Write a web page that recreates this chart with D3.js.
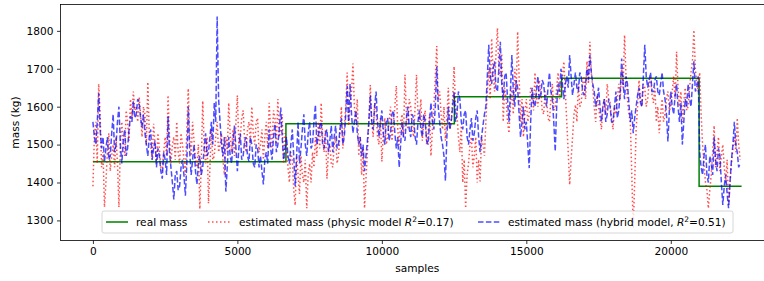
<!DOCTYPE html>
<html>
<head>
<meta charset="utf-8">
<script src="https://cdn.jsdelivr.net/npm/d3@7"></script>
<style>
  body { margin: 0; background: #fff; }
  svg { display: block; font-family: "DejaVu Sans", sans-serif; }
</style>
</head>
<body>
<div id="chart"></div>
<script>
// ---- data ----
// real mass (step function): change points in samples and level of each step
let realSamples = [0, 6680, 12510, 16220, 20980, 22450];
let realMass = [1455, 1555, 1626, 1675, 1390, 1390];

// estimated mass, one value every 50 samples
let sampleStep = 50;

let physicMass = [
  1390, 1520, 1560, 1450, 1660, 1580, 1440, 1480, 1335, 1400, 1480, 1530, 1430, 1470, 1500, 1440, 1520, 1450, 1335, 1500,
  1560, 1500, 1470, 1590, 1560, 1510, 1620, 1570, 1640, 1590, 1600, 1560, 1625, 1580, 1520, 1600, 1580, 1500, 1665, 1530,
  1500, 1460, 1555, 1500, 1450, 1530, 1490, 1440, 1430, 1480, 1520, 1470, 1630, 1520, 1450, 1500, 1520, 1460, 1560, 1480,
  1450, 1530, 1500, 1460, 1420, 1540, 1648, 1520, 1470, 1560, 1510, 1460, 1440, 1500, 1330, 1450, 1615, 1500, 1450, 1520,
  1345, 1440, 1540, 1460, 1470, 1520, 1560, 1480, 1500, 1530, 1460, 1420, 1520, 1480, 1610, 1530, 1480, 1540, 1470, 1560,
  1630, 1500, 1520, 1570, 1590, 1510, 1480, 1540, 1560, 1500, 1600, 1530, 1500, 1560, 1570, 1480, 1500, 1540, 1460, 1520,
  1560, 1490, 1610, 1540, 1490, 1590, 1570, 1500, 1620, 1520, 1540, 1580, 1450, 1530, 1500, 1440, 1400, 1480, 1460, 1380,
  1340, 1470, 1420, 1370, 1470, 1420, 1400, 1460, 1332, 1420, 1450, 1400, 1480, 1440, 1520, 1470, 1560, 1490, 1610, 1520,
  1480, 1540, 1410, 1480, 1500, 1450, 1440, 1500, 1520, 1450, 1470, 1530, 1600, 1490, 1540, 1600, 1690, 1550, 1600, 1640,
  1714, 1600, 1560, 1620, 1470, 1520, 1420, 1490, 1332, 1410, 1480, 1560, 1657, 1560, 1520, 1610, 1590, 1520, 1500, 1570,
  1455, 1530, 1570, 1500, 1520, 1560, 1600, 1510, 1560, 1600, 1655, 1540, 1500, 1560, 1580, 1520, 1684, 1580, 1540, 1620,
  1600, 1540, 1520, 1600, 1684, 1580, 1560, 1620, 1510, 1560, 1590, 1500, 1530, 1580, 1470, 1540, 1600, 1680, 1760, 1620,
  1640, 1580, 1540, 1600, 1510, 1570, 1650, 1540, 1560, 1620, 1706, 1600, 1580, 1520, 1480, 1550, 1400, 1460, 1332, 1420,
  1450, 1500, 1520, 1440, 1470, 1520, 1400, 1460, 1403, 1520, 1500, 1470, 1560, 1640, 1700, 1620, 1780, 1690, 1640, 1740,
  1807, 1700, 1680, 1740, 1560, 1650, 1620, 1560, 1530, 1600, 1650, 1580, 1700, 1640, 1798, 1680, 1560, 1620, 1520, 1580,
  1620, 1560, 1580, 1650, 1640, 1590, 1690, 1620, 1600, 1670, 1640, 1590, 1580, 1640, 1620, 1570, 1560, 1620, 1660, 1590,
  1600, 1650, 1690, 1620, 1650, 1680, 1719, 1640, 1560, 1480, 1394, 1460, 1520, 1580, 1605, 1560, 1660, 1600, 1610, 1660,
  1680, 1620, 1720, 1660, 1771, 1690, 1650, 1600, 1560, 1630, 1600, 1570, 1540, 1600, 1620, 1580, 1660, 1620, 1610, 1570,
  1540, 1600, 1580, 1620, 1660, 1620, 1700, 1650, 1789, 1680, 1620, 1580, 1560, 1420, 1280, 1400, 1540, 1600, 1670, 1620,
  1600, 1660, 1650, 1600, 1620, 1660, 1680, 1630, 1610, 1650, 1560, 1600, 1530, 1580, 1620, 1560, 1580, 1620, 1640, 1590,
  1600, 1640, 1680, 1620, 1745, 1650, 1600, 1640, 1560, 1610, 1650, 1590, 1600, 1650, 1690, 1720, 1802, 1700, 1660, 1640,
  1690, 1580, 1500, 1450, 1400, 1380, 1332, 1380, 1420, 1480, 1550, 1440, 1480, 1520, 1430, 1470, 1500, 1440, 1400, 1460,
  1341, 1400, 1450, 1490, 1520, 1480, 1570, 1500, 1460
];

let hybridMass = [
  1560, 1520, 1500, 1560, 1635, 1540, 1490, 1520, 1455, 1490, 1520, 1460, 1470, 1530, 1580, 1480, 1500, 1560, 1600, 1500,
  1450, 1510, 1540, 1470, 1490, 1540, 1575, 1560, 1615, 1570, 1580, 1620, 1610, 1570, 1545, 1580, 1530, 1500, 1470, 1520,
  1540, 1460, 1490, 1510, 1440, 1490, 1470, 1430, 1410, 1480, 1460, 1420, 1575, 1480, 1440, 1400, 1355, 1420, 1430, 1380,
  1390, 1440, 1460, 1420, 1365, 1450, 1600, 1480, 1420, 1460, 1500, 1430, 1395, 1450, 1470, 1420, 1440, 1490, 1530, 1470,
  1480, 1520, 1560, 1500, 1610, 1560, 1838, 1620, 1560, 1500, 1470, 1520, 1376, 1440, 1520, 1470, 1450, 1510, 1550, 1490,
  1430, 1490, 1530, 1460, 1470, 1510, 1520, 1470, 1455, 1520, 1500, 1450, 1440, 1500, 1490, 1440, 1470, 1430, 1395, 1460,
  1480, 1450, 1540, 1490, 1460, 1520, 1555, 1480, 1500, 1540, 1598, 1520, 1460, 1490, 1520, 1470, 1450, 1500, 1540, 1470,
  1390, 1470, 1560, 1450, 1490, 1540, 1580, 1500, 1470, 1530, 1560, 1490, 1500, 1560, 1605, 1500, 1520, 1550, 1560, 1500,
  1490, 1530, 1540, 1480, 1510, 1550, 1480, 1520, 1550, 1490, 1500, 1540, 1570, 1500, 1520, 1580, 1655, 1560, 1660, 1580,
  1530, 1560, 1590, 1530, 1500, 1520, 1470, 1500, 1430, 1470, 1510, 1560, 1630, 1560, 1540, 1600, 1640, 1560, 1520, 1560,
  1590, 1530, 1500, 1560, 1570, 1510, 1530, 1580, 1590, 1530, 1490, 1520, 1440, 1500, 1560, 1520, 1510, 1570, 1600, 1540,
  1520, 1580, 1570, 1520, 1500, 1560, 1590, 1540, 1520, 1580, 1560, 1510, 1500, 1560, 1610, 1560, 1540, 1600, 1705, 1600,
  1560, 1520, 1500, 1470, 1405, 1520, 1600, 1540, 1560, 1600, 1640, 1560, 1580, 1640, 1620, 1560, 1540, 1580, 1590, 1520,
  1500, 1540, 1570, 1510, 1530, 1570, 1590, 1520, 1480, 1520, 1550, 1580, 1600, 1680, 1763, 1680, 1660, 1700, 1720, 1650,
  1640, 1700, 1771, 1660, 1620, 1680, 1690, 1620, 1560, 1640, 1736, 1640, 1600, 1670, 1650, 1580, 1520, 1560, 1600, 1540,
  1560, 1500, 1438, 1560, 1650, 1610, 1600, 1640, 1680, 1620, 1630, 1670, 1660, 1620, 1600, 1650, 1690, 1640, 1620, 1560,
  1482, 1600, 1660, 1640, 1700, 1660, 1620, 1660, 1680, 1650, 1736, 1680, 1630, 1660, 1690, 1650, 1640, 1690, 1680, 1640,
  1630, 1660, 1700, 1670, 1736, 1690, 1660, 1640, 1600, 1620, 1650, 1600, 1560, 1600, 1620, 1560, 1580, 1620, 1600, 1560,
  1560, 1600, 1640, 1570, 1590, 1640, 1727, 1660, 1620, 1680, 1660, 1610, 1560, 1590, 1530, 1570, 1600, 1630, 1650, 1610,
  1600, 1680, 1763, 1680, 1650, 1670, 1690, 1640, 1640, 1670, 1680, 1640, 1630, 1660, 1690, 1640, 1620, 1580, 1508, 1590,
  1640, 1600, 1580, 1630, 1660, 1600, 1560, 1610, 1500, 1560, 1620, 1600, 1660, 1620, 1600, 1660, 1720, 1640, 1650, 1680,
  1480, 1440, 1420, 1470, 1500, 1420, 1400, 1470, 1450, 1420, 1520, 1460, 1430, 1490, 1470, 1400, 1341, 1390, 1420, 1370,
  1332, 1400, 1460, 1500, 1560, 1500, 1480, 1440, 1450
];

let xTicks = [0, 5000, 10000, 15000, 20000];
let yTicks = [1300, 1400, 1500, 1600, 1700, 1800];

// ---- layout ----
let width = 764, height = 281;
let plot = {left: 60.5, top: 4.5, right: 774, bottom: 240.5};
let fontSize = "10.6px";

let svg = d3.select("#chart").append("svg")
    .attr("width", width)
    .attr("height", height);

// scales (limits as matplotlib picked them)
let x = d3.scaleLinear()
    .domain([-1122, 23572])
    .range([plot.left, plot.right]);

let y = d3.scaleLinear()
    .domain([1247, 1869.5])
    .range([plot.bottom, plot.top]);

svg.append("defs").append("clipPath")
    .attr("id", "clip")
  .append("rect")
    .attr("x", plot.left)
    .attr("y", plot.top)
    .attr("width", plot.right - plot.left)
    .attr("height", plot.bottom - plot.top);

let lines = svg.append("g").attr("clip-path", "url(#clip)");

// real mass
let realLine = d3.line()
    .x((d, i) => x(realSamples[i]))
    .y(d => y(d))
    .curve(d3.curveStepAfter);

lines.append("path")
    .attr("d", realLine(realMass))
    .attr("fill", "none")
    .attr("stroke", "#008000")
    .attr("stroke-width", 1.5);

// estimated series
let estLine = d3.line()
    .x((d, i) => x(i * sampleStep))
    .y(d => y(d));

lines.append("path")
    .attr("d", estLine(physicMass))
    .attr("fill", "none")
    .attr("stroke", "#ff0000")
    .attr("stroke-opacity", 0.7)
    .attr("stroke-width", 1.5)
    .attr("stroke-dasharray", "1.5,2.5");

lines.append("path")
    .attr("d", estLine(hybridMass))
    .attr("fill", "none")
    .attr("stroke", "#0000ff")
    .attr("stroke-opacity", 0.7)
    .attr("stroke-width", 1.5)
    .attr("stroke-dasharray", "5.5,2.4");

// axes
let xAxis = d3.axisBottom(x).tickValues(xTicks).tickFormat(d3.format("d"))
    .tickSize(3.5).tickPadding(3.5);
let yAxis = d3.axisLeft(y).tickValues(yTicks).tickFormat(d3.format("d"))
    .tickSize(3.5).tickPadding(3.5);

let gx = svg.append("g")
    .attr("transform", "translate(0," + plot.bottom + ")")
    .call(xAxis);
let gy = svg.append("g")
    .attr("transform", "translate(" + plot.left + ",0)")
    .call(yAxis);

[gx, gy].forEach(g => {
  g.select(".domain").remove();
  g.selectAll("line").attr("stroke", "#000").attr("stroke-width", 0.8);
  g.selectAll("text")
      .attr("fill", "#000")
      .style("font-size", fontSize)
      .style("font-family", "DejaVu Sans");
});

// frame
svg.append("rect")
    .attr("x", plot.left)
    .attr("y", plot.top)
    .attr("width", plot.right - plot.left)
    .attr("height", plot.bottom - plot.top)
    .attr("fill", "none")
    .attr("stroke", "#000")
    .attr("stroke-width", 0.8);

// axis titles
svg.append("text")
    .attr("x", (plot.left + plot.right) / 2)
    .attr("y", 272)
    .attr("text-anchor", "middle")
    .style("font-size", fontSize)
    .text("samples");

svg.append("text")
    .attr("transform", "translate(19," + ((plot.top + plot.bottom) / 2) + ") rotate(-90)")
    .attr("text-anchor", "middle")
    .style("font-size", fontSize)
    .text("mass (kg)");

// legend
let legend = svg.append("g");

legend.append("rect")
    .attr("x", 102)
    .attr("y", 211)
    .attr("width", 631)
    .attr("height", 22)
    .attr("rx", 2)
    .attr("fill", "#fff")
    .attr("fill-opacity", 0.8)
    .attr("stroke", "#cccccc")
    .attr("stroke-width", 0.8);

let legendItems = [
  {x: 106, color: "#008000", dash: null, opacity: 1},
  {x: 208, color: "#ff0000", dash: "1.5,2.5", opacity: 0.7},
  {x: 478, color: "#0000ff", dash: "5.5,2.4", opacity: 0.7}
];

legendItems.forEach(d => {
  legend.append("line")
      .attr("x1", d.x)
      .attr("x2", d.x + 22)
      .attr("y1", 222)
      .attr("y2", 222)
      .attr("stroke", d.color)
      .attr("stroke-opacity", d.opacity)
      .attr("stroke-width", 1.5)
      .attr("stroke-dasharray", d.dash);
});

let t1 = legend.append("text").attr("x", 136).attr("y", 226).style("font-size", fontSize);
t1.text("real mass");

let t2 = legend.append("text").attr("x", 239).attr("y", 226).style("font-size", fontSize);
t2.append("tspan").text("estimated mass (physic model ");
t2.append("tspan").style("font-style", "italic").text("R");
t2.append("tspan").attr("dy", -4).style("font-size", "7.5px").text("2");
t2.append("tspan").attr("dy", 4).text("=0.17)");

let t3 = legend.append("text").attr("x", 508).attr("y", 226).style("font-size", fontSize);
t3.append("tspan").text("estimated mass (hybrid model, ");
t3.append("tspan").style("font-style", "italic").text("R");
t3.append("tspan").attr("dy", -4).style("font-size", "7.5px").text("2");
t3.append("tspan").attr("dy", 4).text("=0.51)");
</script>
</body>
</html>
